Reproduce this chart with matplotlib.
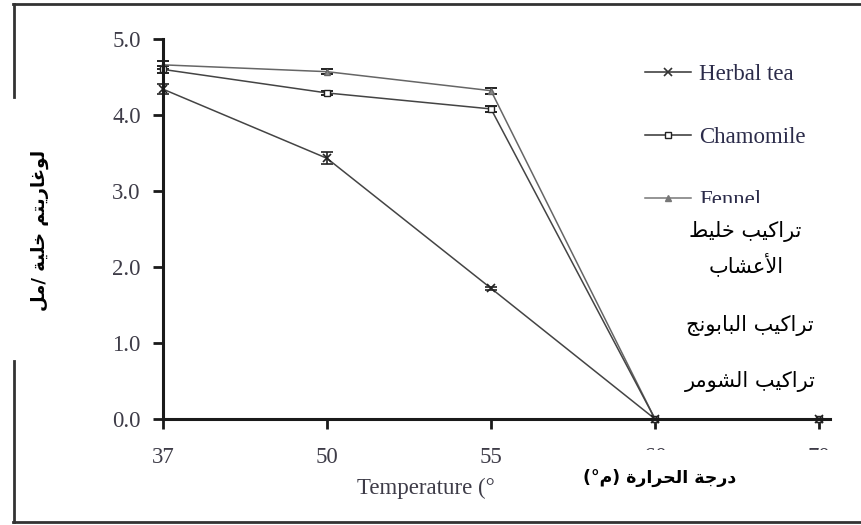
import numpy as np
import matplotlib
matplotlib.use('Agg')
import matplotlib.pyplot as plt
from matplotlib.lines import Line2D
from matplotlib.patches import Rectangle

# data
temps = ['37', '50', '55', '60', '70']
herbal = [4.34, 3.43, 1.72, 0.0, 0.0]
herbal_err = [0.07, 0.08, 0.02, 0.0, 0.0]
chamomile = [4.60, 4.29, 4.08, 0.0, 0.0]
chamomile_err = [0.05, 0.03, 0.04, 0.0, 0.0]
fennel = [4.66, 4.57, 4.32, 0.0, 0.0]
fennel_err = [0.05, 0.03, 0.04, 0.0, 0.0]
yticks = [0.0, 1.0, 2.0, 3.0, 4.0, 5.0]

ylabel_ar = 'لوغاريتم خلية /مل'
xlabel_ar = 'درجة الحرارة (م°)'
notes_ar = ['تراكيب خليط', 'الأعشاب', 'تراكيب البابونج', 'تراكيب الشومر']

# arabic letters -> (isolated, final, initial, medial) presentation forms
FORMS = {
    'ا': (0xFE8D, 0xFE8E, None, None), 'أ': (0xFE83, 0xFE84, None, None),
    'ب': (0xFE8F, 0xFE90, 0xFE91, 0xFE92), 'ة': (0xFE93, 0xFE94, None, None),
    'ت': (0xFE95, 0xFE96, 0xFE97, 0xFE98), 'ج': (0xFE9D, 0xFE9E, 0xFE9F, 0xFEA0),
    'ح': (0xFEA1, 0xFEA2, 0xFEA3, 0xFEA4), 'خ': (0xFEA5, 0xFEA6, 0xFEA7, 0xFEA8),
    'د': (0xFEA9, 0xFEAA, None, None), 'ر': (0xFEAD, 0xFEAE, None, None),
    'ش': (0xFEB5, 0xFEB6, 0xFEB7, 0xFEB8), 'ط': (0xFEC1, 0xFEC2, 0xFEC3, 0xFEC4),
    'ع': (0xFEC9, 0xFECA, 0xFECB, 0xFECC), 'غ': (0xFECD, 0xFECE, 0xFECF, 0xFED0),
    'ك': (0xFED9, 0xFEDA, 0xFEDB, 0xFEDC), 'ل': (0xFEDD, 0xFEDE, 0xFEDF, 0xFEE0),
    'م': (0xFEE1, 0xFEE2, 0xFEE3, 0xFEE4), 'ن': (0xFEE5, 0xFEE6, 0xFEE7, 0xFEE8),
    'ه': (0xFEE9, 0xFEEA, 0xFEEB, 0xFEEC), 'و': (0xFEED, 0xFEEE, None, None),
    'ي': (0xFEF1, 0xFEF2, 0xFEF3, 0xFEF4),
    'لا': (0xFEFB, 0xFEFC, None, None), 'لأ': (0xFEF7, 0xFEF8, None, None),
}
MIRROR = {'(': ')', ')': '('}


def shape(s):
    # join lam-alef first
    toks = []
    i = 0
    while i < len(s):
        if s[i] == 'ل' and i + 1 < len(s) and s[i+1] in 'اأ':
            toks.append(s[i:i+2])
            i += 2
        else:
            toks.append(s[i])
            i += 1
    out = []
    for k, t in enumerate(toks):
        if t not in FORMS:
            out.append(MIRROR.get(t, t))
            continue
        iso, fin, ini, med = FORMS[t]
        prev = toks[k-1] if k > 0 else None
        nxt = toks[k+1] if k + 1 < len(toks) else None
        jp = prev in FORMS and FORMS[prev][2] is not None
        jn = ini is not None and nxt in FORMS
        if jp and jn:
            c = med
        elif jn:
            c = ini
        elif jp:
            c = fin
        else:
            c = iso
        out.append(chr(c))
    return ''.join(out[::-1])


W, H = 861, 525
def fx(px): return px / W
def fy(py): return 1 - py / H

fig = plt.figure(figsize=(W/100, H/100), dpi=100)
ax = fig.add_axes([fx(163), fy(419), (830-163)/W, (419-39)/H])

x = np.arange(len(temps))
common = dict(lw=1.1, capsize=4, elinewidth=1.2, capthick=1.4, clip_on=False)
ax.errorbar(x, fennel, yerr=fennel_err, color='#666666', marker='^', ms=4,
            mfc='#888888', ecolor='#222222', **common)
ax.errorbar(x, chamomile, yerr=chamomile_err, color='#444444', marker='s', ms=5,
            mfc='white', mec='#222222', ecolor='#222222', **common)
ax.errorbar(x, herbal, yerr=herbal_err, color='#444444', marker='x', ms=6, mew=1.2,
            mec='#222222', ecolor='#222222', **common)

ax.set_xlim(0, 4.067)
ax.set_ylim(0, 5)
ax.set_xticks(x)
ax.set_xticklabels(temps)
ax.set_yticks(yticks)
ax.set_yticklabels(['%.1f' % v for v in yticks])
for s in ['top', 'right']:
    ax.spines[s].set_visible(False)
for s in ['left', 'bottom']:
    ax.spines[s].set_linewidth(2.2)
    ax.spines[s].set_color('#1a1a1a')
ax.tick_params(axis='both', direction='out', length=7, width=2, color='#1a1a1a',
               labelsize=16.5, labelcolor='#3e3c48')
ax.tick_params(axis='x', pad=13)
ax.tick_params(axis='y', pad=9)
for lab in ax.get_xticklabels() + ax.get_yticklabels():
    lab.set_fontfamily('Liberation Serif')

handles = [
    Line2D([], [], color='#333333', lw=1.1, marker='x', ms=6, mew=1.2),
    Line2D([], [], color='#333333', lw=1.1, marker='s', ms=5, mfc='white', mec='#222222'),
    Line2D([], [], color='#777777', lw=1.1, marker='^', ms=4, mfc='#777777'),
]
leg = ax.legend(handles, ['Herbal tea', 'Chamomile', 'Fennel'], loc='upper left',
                bbox_to_anchor=(fx(645), fy(64)), bbox_transform=fig.transFigure,
                frameon=False, borderpad=0, borderaxespad=0, handlelength=2.0,
                handletextpad=0.35, labelspacing=1.82,
                prop={'family': 'Liberation Serif', 'size': 16.5})
for t in leg.get_texts():
    t.set_color('#2c2c4a')

fig.text(fx(357), fy(488), 'Temperature (°', family='Liberation Serif', size=16.5,
         color='#3e3c48', ha='left', va='center')

# white patches laid over the chart, as in the picture
fig.add_artist(Rectangle((fx(655), fy(405)), 1 - fx(655), fy(203) - fy(405),
                         transform=fig.transFigure, fc='white', ec='none', zorder=5))
fig.add_artist(Rectangle((fx(502), fy(516)), 1 - fx(502), fy(450) - fy(516),
                         transform=fig.transFigure, fc='white', ec='none', zorder=5))

fig.text(fx(40), fy(230), shape(ylabel_ar), rotation=90, ha='center', va='center',
         size=13, weight='bold', zorder=6)
fig.text(fx(660), fy(478), shape(xlabel_ar), ha='center', va='center',
         size=12.5, weight='bold', zorder=6)
note_pos = [(745, 232), (746, 264), (750, 325), (750, 382)]
for txt, (px, py) in zip(notes_ar, note_pos):
    fig.text(fx(px), fy(py), shape(txt), ha='center', va='center', size=15, zorder=6)

# outer frame
fc = '#333333'
fig.add_artist(Line2D([fx(13), 1], [fy(4), fy(4)], transform=fig.transFigure, color=fc, lw=2, zorder=7))
fig.add_artist(Line2D([fx(13), 1], [fy(522), fy(522)], transform=fig.transFigure, color=fc, lw=2, zorder=7))
fig.add_artist(Line2D([fx(14), fx(14)], [fy(4), fy(97)], transform=fig.transFigure, color=fc, lw=2, zorder=7))
fig.add_artist(Line2D([fx(14), fx(14)], [fy(361), fy(522)], transform=fig.transFigure, color=fc, lw=2, zorder=7))

fig.savefig('out.png', dpi=100)
